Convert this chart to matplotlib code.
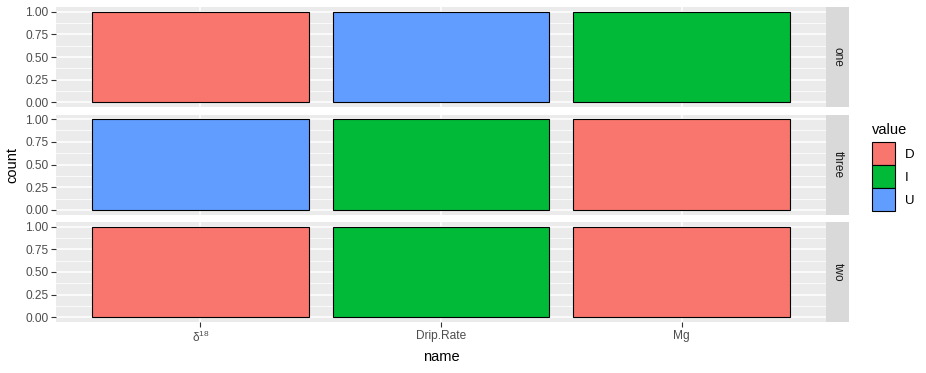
import matplotlib
matplotlib.use("Agg")
from matplotlib import pyplot as plt
from matplotlib.patches import Patch

plt.rcParams['font.family'] = ['Liberation Sans', 'DejaVu Sans']

categories = [r'$\mathregular{\delta^{18}}$', 'Drip.Rate', 'Mg']
facets = ['one', 'three', 'two']
facet_values = {
    'one': ['D', 'U', 'I'],
    'three': ['U', 'I', 'D'],
    'two': ['D', 'I', 'D'],
}
facet_counts = {
    'one': [1, 1, 1],
    'three': [1, 1, 1],
    'two': [1, 1, 1],
}
levels = ['D', 'I', 'U']
colors = {'D': '#F8766D', 'I': '#00BA38', 'U': '#619CFF'}

W, H = 926, 373


def px_axes(fig, x0, y0, x1, y1):
    return fig.add_axes([x0 / W, 1 - y1 / H, (x1 - x0) / W, (y1 - y0) / H])


def main():
    fig = plt.figure(figsize=(W / 100, H / 100), dpi=100)
    tick_col = '#4D4D4D'
    left, right = 56, 826
    tops = [7, 114.5, 222]
    ph = 100
    x = list(range(1, len(categories) + 1))

    for i, f in enumerate(facets):
        top = tops[i]
        ax = px_axes(fig, left, top, right, top + ph)
        ax.set_facecolor('#EBEBEB')
        ax.bar(x, facet_counts[f], 0.9, color=[colors[v] for v in facet_values[f]],
               edgecolor='black', linewidth=0.8, zorder=3)
        ax.set_xlim(0.4, 3.6)
        ax.set_ylim(-0.05, 1.05)
        ax.set_yticks([0, 0.25, 0.5, 0.75, 1.0])
        ax.set_yticklabels(['0.00', '0.25', '0.50', '0.75', '1.00'])
        ax.set_yticks([0.125, 0.375, 0.625, 0.875], minor=True)
        ax.set_xticks(x)
        ax.grid(which='major', color='white', linewidth=1.1, zorder=0)
        ax.grid(which='minor', axis='y', color='white', linewidth=0.55, zorder=0)
        ax.set_axisbelow(True)
        for s in ax.spines.values():
            s.set_visible(False)
        ax.tick_params(axis='both', which='major', color='#333333', length=3.5,
                       width=0.8, labelsize=8.6, labelcolor=tick_col, pad=2)
        ax.tick_params(axis='both', which='minor', length=0)
        if i == len(facets) - 1:
            ax.set_xticklabels(categories)
            ax.set_xlabel('name', fontsize=10.5, color='black', labelpad=4)
        else:
            ax.set_xticklabels([])
            ax.tick_params(axis='x', length=0)
        if i == 1:
            ax.set_ylabel('count', fontsize=10.5, color='black', labelpad=4)

        sax = px_axes(fig, right, top, 849, top + ph)
        sax.set_facecolor('#D9D9D9')
        sax.set_xticks([])
        sax.set_yticks([])
        for s in sax.spines.values():
            s.set_visible(False)
        sax.text(0.5, 0.5, f, rotation=-90, ha='center', va='center',
                 fontsize=8.6, color='#1A1A1A', transform=sax.transAxes)

    handles = [Patch(facecolor=colors[l], edgecolor='black', linewidth=0.8, label=l)
               for l in levels]
    leg = fig.legend(handles=handles, title='value', loc='upper left',
                     bbox_to_anchor=(861 / W, 1 - 112 / H), frameon=False,
                     fontsize=9.5, title_fontsize=10.5, handlelength=1.75,
                     handleheight=2.3, handletextpad=0.75, labelspacing=0.0,
                     borderpad=0.3)
    leg._legend_box.align = 'left'
    leg._legend_box.sep = 4

    fig.savefig('out.png', dpi=100)


if __name__ == '__main__':
    main()
